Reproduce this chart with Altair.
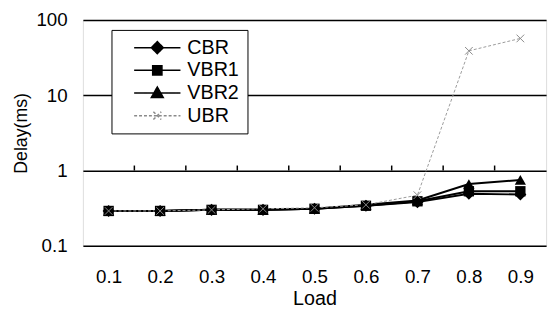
import altair as alt
import pandas as pd

loads = [0.1, 0.2, 0.3, 0.4, 0.5, 0.6, 0.7, 0.8, 0.9]
cbr = [0.29, 0.29, 0.30, 0.30, 0.31, 0.34, 0.38, 0.49, 0.48]
vbr1 = [0.29, 0.29, 0.30, 0.30, 0.31, 0.34, 0.39, 0.53, 0.53]
vbr2 = [0.29, 0.29, 0.30, 0.30, 0.31, 0.35, 0.40, 0.66, 0.75]
ubr = [0.29, 0.29, 0.30, 0.31, 0.32, 0.35, 0.47, 39.0, 57.0]
series_names = ["CBR", "VBR1", "VBR2", "UBR"]
y_ticks = [0.1, 1, 10, 100]

rows = []
for name, vals in zip(series_names, [cbr, vbr1, vbr2, ubr]):
    for l, v in zip(loads, vals):
        rows.append({"load": l, "delay": v, "series": name})
df = pd.DataFrame(rows)
mids = pd.DataFrame({"load": [(a + b) / 2 for a, b in zip(loads[:-1], loads[1:])]})

FONT = "Liberation Sans"

x = alt.X("load:Q",
          scale=alt.Scale(domain=[0.05, 0.95], nice=False, zero=False),
          axis=alt.Axis(values=loads, format=".1f", title="Load", grid=False,
                        ticks=False, tickSize=0, domain=False, labelFontSize=19,
                        titleFontSize=20, labelPadding=22, titlePadding=3,
                        labelColor="black", titleColor="black",
                        titleFontWeight="normal", labelFont=FONT, titleFont=FONT))
y = alt.Y("delay:Q",
          scale=alt.Scale(type="log", domain=[0.1, 100], nice=False),
          axis=alt.Axis(values=y_ticks, format="~g", title="Delay(ms)", grid=True,
                        gridColor="black", gridWidth=1.5, ticks=False, tickSize=0,
                        domain=False, labelFontSize=19, titleFontSize=18,
                        labelPadding=16, titlePadding=6, labelColor="black",
                        titleColor="black", titleFontWeight="normal",
                        labelFont=FONT, titleFont=FONT))

base = alt.Chart(df)

black_lines = base.transform_filter(alt.datum.series != "UBR").mark_line(
    color="black", strokeWidth=2).encode(x=x, y=y, detail="series:N")
ubr_line = base.transform_filter(alt.datum.series == "UBR").mark_line(
    color="#9a9a9a", strokeWidth=1, strokeDash=[3, 2]).encode(x=x, y=y)

cbr_pts = base.transform_filter(alt.datum.series == "CBR").mark_point(
    shape="diamond", filled=True, color="black", size=150, opacity=1).encode(x=x, y=y)
vbr1_pts = base.transform_filter(alt.datum.series == "VBR1").mark_point(
    shape="square", filled=True, color="black", size=110, opacity=1).encode(x=x, y=y)
vbr2_pts = base.transform_filter(alt.datum.series == "VBR2").mark_point(
    shape="triangle-up", filled=True, color="black", size=130, opacity=1).encode(x=x, y=y)
ubr_pts = base.transform_filter(alt.datum.series == "UBR").mark_point(
    shape="M-1,-1L1,1M-1,1L1,-1", filled=False, color="#8a8a8a", size=60,
    strokeWidth=1, opacity=1).encode(x=x, y=y)

ticks = alt.Chart(mids).mark_rule(color="black", strokeWidth=1.5).encode(
    x=alt.X("load:Q"), y=alt.datum(1), y2=alt.datum(1.165))

paths = [
    "M-1,0H1M0,-0.26L0.26,0L0,0.26L-0.26,0Z",
    "M-1,0H1M-0.2,-0.2H0.2V0.2H-0.2Z",
    "M-1,0H1M0,-0.26L0.26,0.2H-0.26Z",
    "M-1,0H1M-0.17,-0.17L0.17,0.17M-0.17,0.17L0.17,-0.17",
]
leg = alt.Legend(orient="none", legendX=29, legendY=10, title=None,
                 fillColor="white", strokeColor="black", padding=8,
                 symbolOffset=14, labelOffset=6, labelFontSize=20, labelFont=FONT,
                 labelColor="black", rowPadding=3, symbolSize=2209, clipHeight=20,
                 symbolStrokeWidth=1.5, symbolOpacity=1)
legend_layer = base.transform_filter("false").mark_point(filled=True).encode(
    x=x, y=y,
    shape=alt.Shape("series:N", scale=alt.Scale(domain=series_names, range=paths), legend=leg),
    fill=alt.Fill("series:N", scale=alt.Scale(domain=series_names,
                                               range=["black", "black", "black", "#8a8a8a"]), legend=leg),
    stroke=alt.Stroke("series:N", scale=alt.Scale(domain=series_names,
                                                   range=["black", "black", "black", "#8a8a8a"]), legend=leg),
    strokeDash=alt.StrokeDash("series:N", scale=alt.Scale(domain=series_names,
                                                          range=[[1, 0], [1, 0], [1, 0], [3, 2]]), legend=leg),
)

chart = alt.layer(
    black_lines, ubr_line, ticks, cbr_pts, vbr1_pts, vbr2_pts, ubr_pts, legend_layer
).properties(
    width=470, height=229,
    padding={"left": 76, "top": 10, "right": 6, "bottom": 66},
    autosize=alt.AutoSizeParams(type="none"),
).configure_view(stroke="black", strokeWidth=1.5).configure(font=FONT)

chart.save("out.html", embed_options={"renderer": "svg", "actions": False})
